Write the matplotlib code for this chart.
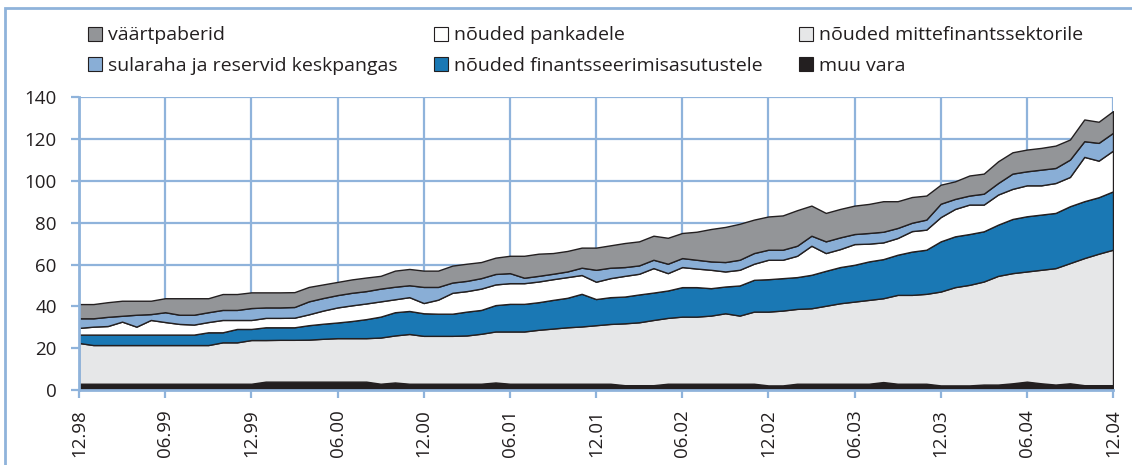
"""
Stacked area chart of bank assets by type, 12.98 - 12.04 (monthly).
"""

import numpy as np
import matplotlib
matplotlib.use("Agg")
import matplotlib.pyplot as plt
from matplotlib.patches import Patch, Rectangle


# monthly values, 12.98 ... 12.04 (73 months)
muu_vara = [3.0] * 13 + [4.0] * 8 + [3.0, 3.6] + [3.0] * 6 + [3.6] + [3.0] * 8 + \
    [2.3] * 3 + [3.0] * 7 + [2.2] * 2 + [3.0] * 6 + [3.8] + [3.0] * 3 + [2.2] * 3 + \
    [2.6, 2.6, 3.2, 4.0, 3.2, 2.6, 3.2, 2.3, 2.3, 2.3]

mittefinants = [19.5, 18.5, 18.5, 18.5, 18.5, 18.5, 18.5, 18.5, 18.5, 18.5,
                19.8, 19.8, 20.9, 19.9, 20.0, 20.0, 20.1, 20.5, 20.8, 20.8,
                20.8, 22.1, 22.5, 23.8, 22.9, 22.9, 22.9, 23.1, 23.9, 24.4,
                25.0, 25.0, 25.8, 26.4, 27.0, 27.4, 28.0, 28.6, 29.6, 30.1,
                31.2, 31.5, 32.1, 32.1, 32.6, 33.7, 32.6, 34.5, 35.3, 35.8,
                35.8, 36.1, 37.3, 38.5, 39.3, 40.1, 40.1, 42.5, 42.5, 43.0,
                44.9, 47.0, 48.1, 49.3, 52.0, 52.7, 52.7, 54.3, 55.7, 57.5,
                60.8, 62.9, 64.8]

finants = [4.0, 5.0, 5.0, 5.0, 5.0, 5.0, 5.0, 5.0, 5.0, 6.1,
           4.8, 6.4, 5.3, 6.1, 6.0, 6.0, 6.9, 7.2, 7.5, 8.2,
           9.1, 10.0, 11.1, 11.0, 10.8, 10.6, 10.6, 11.4, 11.4, 12.6,
           13.2, 13.2, 13.2, 13.7, 14.1, 15.6, 12.5, 12.8, 12.8, 13.3,
           13.1, 13.1, 14.1, 14.1, 13.1, 12.8, 14.4, 15.2, 15.5, 15.5,
           15.2, 16.0, 16.7, 17.3, 17.6, 18.4, 18.7, 19.2, 20.7, 21.1,
           24.0, 24.3, 24.3, 24.0, 24.5, 25.9, 26.4, 26.4, 26.4, 27.2,
           27.2, 27.0, 27.9]

pankadele = [3.2, 3.8, 4.1, 6.2, 3.8, 7.0, 6.0, 5.1, 4.8, 4.9,
             5.9, 4.3, 4.3, 4.5, 4.5, 4.6, 5.2, 6.3, 7.2, 7.5,
             7.5, 7.3, 6.2, 6.6, 4.9, 6.7, 10.0, 9.8, 10.2, 9.9,
             9.9, 9.9, 9.9, 9.9, 9.9, 9.0, 8.3, 9.1, 9.9, 9.9,
             11.7, 8.3, 9.6, 8.9, 8.8, 7.2, 7.5, 7.7, 9.3, 8.8,
             10.2, 13.9, 8.5, 8.6, 9.9, 8.5, 8.0, 8.0, 9.8, 9.6,
             11.6, 13.1, 14.1, 12.8, 14.4, 14.4, 14.8, 14.0, 14.3, 14.0,
             21.2, 17.5, 19.5]

sularaha = [4.6, 4.0, 4.4, 2.8, 5.7, 2.8, 4.7, 4.4, 4.7, 4.7,
            4.8, 4.8, 5.7, 5.0, 5.0, 5.1, 6.2, 6.0, 5.9, 6.0,
            5.9, 6.1, 6.0, 5.7, 7.7, 6.1, 4.9, 4.9, 5.0, 5.0,
            4.8, 2.6, 2.7, 2.6, 2.7, 3.5, 5.7, 5.0, 4.2, 4.0,
            4.0, 4.5, 4.3, 4.2, 4.0, 4.5, 4.8, 5.1, 4.8, 4.8,
            4.8, 4.8, 5.6, 5.6, 4.8, 5.1, 5.1, 4.8, 4.0, 4.8,
            6.4, 4.8, 4.3, 5.2, 5.5, 7.3, 6.7, 7.5, 7.2, 8.3,
            7.5, 8.5, 8.5]

vaartpaberid = [6.8, 6.8, 7.0, 7.2, 6.7, 6.4, 6.7, 7.9, 7.9, 6.7,
                7.6, 7.6, 7.5, 7.2, 7.2, 7.1, 6.9, 6.5, 6.3, 6.4,
                6.5, 6.1, 7.7, 7.8, 7.8, 7.8, 8.1, 8.2, 7.7, 7.8,
                8.3, 10.5, 10.6, 9.9, 9.8, 9.6, 10.6, 10.7, 11.5, 11.5,
                11.5, 12.4, 12.0, 13.4, 15.5, 16.8, 17.2, 16.0, 15.9, 16.4,
                17.0, 14.4, 13.6, 13.6, 13.6, 13.9, 14.6, 12.8, 12.3, 11.5,
                9.1, 8.4, 9.6, 9.6, 10.4, 10.2, 10.4, 10.4, 10.7, 9.6,
                10.4, 10.1, 10.4]

tick_labels = ["12.98", "06.99", "12.99", "06.00", "12.00", "06.01", "12.01",
               "06.02", "12.02", "06.03", "12.03", "06.04", "12.04"]

names = ["muu vara", "nõuded mittefinantssektorile",
         "nõuded finantsseerimisasutustele", "nõuded pankadele",
         "sularaha ja reservid keskpangas", "väärtpaberid"]
colors = ["#231f20", "#e6e7e8", "#1a78b4", "#ffffff", "#89aed6", "#939598"]

GRID = "#8fb3db"
EDGE = "#231f20"
TEXT = "#231f20"

plt.rcParams["font.family"] = ["Open Sans", "DejaVu Sans"]

fig = plt.figure(figsize=(11.32, 4.65), dpi=100)

# light blue frame around the chart
fig.patches.append(Rectangle((5 / 1132, -0.1), 1.2, 1 - 8 / 465 + 0.1,
                             transform=fig.transFigure, fill=False,
                             edgecolor=GRID, lw=2, zorder=0))

ax = fig.add_axes([79 / 1132, 1 - 390 / 465, (1113 - 79) / 1132, (390 - 97.3) / 465])

months = np.arange(len(mittefinants))
series = [muu_vara, mittefinants, finants, pankadele, sularaha, vaartpaberid]
ax.stackplot(months, *series, colors=colors, edgecolor=EDGE, linewidth=1.0)

ax.set_xlim(0, 72)
ax.set_ylim(0, 140)
ax.set_xticks(np.arange(0, 73, 6))
ax.set_xticklabels(tick_labels, rotation=90)
ax.set_yticks(np.arange(0, 141, 20))

ax.set_axisbelow(True)
ax.grid(True, color=GRID, lw=1.6)
for side in ["top", "right"]:
    ax.spines[side].set_visible(False)
for side in ["left", "bottom"]:
    ax.spines[side].set_color(GRID)
    ax.spines[side].set_linewidth(2)
ax.tick_params(axis="both", colors=GRID, width=1.6, length=6,
               labelcolor=TEXT, labelsize=13.5)
ax.tick_params(axis="x", pad=8)
ax.tick_params(axis="y", pad=10)

handles = [Patch(facecolor=c, edgecolor=EDGE, lw=0.8) for c in colors]
# legend order: row 1 = väärtpaberid, pankadele, mittefinants; row 2 = sularaha, finants, muu vara
order = [5, 4, 3, 2, 1, 0]
fig.legend([handles[i] for i in order], [names[i] for i in order],
           ncol=3, loc="upper left", bbox_to_anchor=(70 / 1132, 1 - 9 / 465),
           frameon=False, fontsize=14, handlelength=0.75, handleheight=0.75,
           handletextpad=0.3, columnspacing=1.85, labelspacing=0.62,
           labelcolor=TEXT)

fig.savefig("out.png", dpi=100)
